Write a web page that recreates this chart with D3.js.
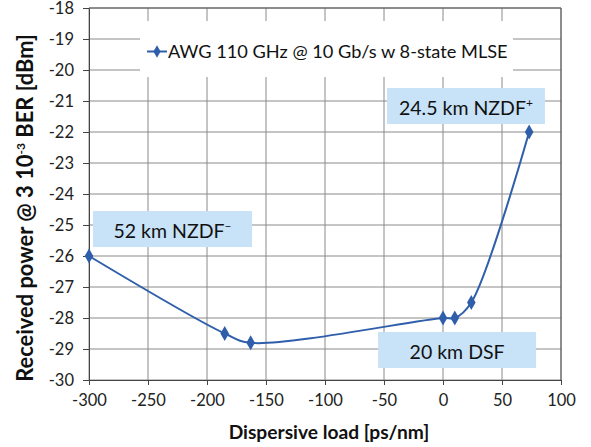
<!DOCTYPE html>
<html><head><meta charset="utf-8">
<script src="https://cdn.jsdelivr.net/npm/d3@7"></script>
<style>body{margin:0;background:#fff}svg{display:block}text{font-family:Lato,"Open Sans",sans-serif}</style>
</head><body><svg id="c" width="591" height="447"></svg>
<script>
const dispersion = [-300, -185, -163, 0, 10, 24, 73];
const power = [-26, -28.5, -28.8, -28, -28, -27.5, -22];
const xTicks = [-300, -250, -200, -150, -100, -50, 0, 50, 100];
const yTicks = [-30, -29, -28, -27, -26, -25, -24, -23, -22, -21, -20, -19, -18];
const seriesName = "AWG 110 GHz @ 10 Gb/s w 8-state MLSE";
const noteLabels = ["24.5 km NZDF", "52 km NZDF", "20 km DSF"];
const noteSups = ["+", "-", ""];
const noteX = [-47.5, -296.6, -55];
const noteY = [-20.58, -24.55, -28.45];

const W = 591, H = 447, m = {l: 89, r: 30, t: 8, b: 67};
const svg = d3.select("#c");
const x = d3.scaleLinear().domain([-300, 100]).range([m.l, W - m.r]);
const y = d3.scaleLinear().domain([-30, -18]).range([H - m.b, m.t]);
const blue = "#2f5fab";

function fit(sel, target) {
  const fs = +sel.attr("font-size");
  const len = sel.node().getComputedTextLength();
  if (len > 0) sel.attr("font-size", (fs * target / len).toFixed(2));
}

// grid
svg.append("g").selectAll("line").data(xTicks).join("line")
  .attr("x1", d => x(d)).attr("x2", d => x(d)).attr("y1", y(-18)).attr("y2", y(-30))
  .attr("stroke", "#8a8a8a").attr("stroke-width", 1);
svg.append("g").selectAll("line").data(yTicks).join("line")
  .attr("y1", d => y(d)).attr("y2", d => y(d)).attr("x1", x(-300)).attr("x2", x(100))
  .attr("stroke", "#8a8a8a").attr("stroke-width", 1);

// axes
const xa = svg.append("g").attr("transform", `translate(0,${y(-30)})`)
  .call(d3.axisBottom(x).tickValues(xTicks).tickSize(5).tickPadding(9).tickFormat(d => String(d)));
const ya = svg.append("g").attr("transform", `translate(${x(-300)},0)`)
  .call(d3.axisLeft(y).tickValues(yTicks).tickSize(6).tickPadding(9).tickFormat(d => String(d)));
[xa, ya].forEach(a => {
  a.selectAll("path").attr("stroke", "#444");
  a.selectAll("line").attr("stroke", "#444");
  a.selectAll("text").attr("font-size", 16.5).attr("fill", "#222").style("font-family", "Lato,sans-serif");
});
// top & right border
svg.append("line").attr("x1", x(-300)).attr("x2", x(100)).attr("y1", y(-18)).attr("y2", y(-18)).attr("stroke", "#555");
svg.append("line").attr("x1", x(100)).attr("x2", x(100)).attr("y1", y(-18)).attr("y2", y(-30)).attr("stroke", "#555");

// legend
const lg = svg.append("g");
lg.append("rect").attr("x", 140).attr("y", 21).attr("width", 373).attr("height", 56).attr("fill", "#fff");
lg.append("line").attr("x1", 147).attr("x2", 167).attr("y1", 51.5).attr("y2", 51.5).attr("stroke", blue).attr("stroke-width", 2);
lg.append("path").attr("d", d3.symbol(d3.symbolDiamond, 45)()).attr("transform", "translate(157,51.5)").attr("fill", blue);
const lt = lg.append("text").attr("x", 168).attr("y", 57.5).attr("font-size", 18).attr("fill", "#111").text(seriesName);
fit(lt, 340);

// notes
const ng = svg.append("g");
const noteW = [158, 159, 158], noteTW = [118, 104, 0];
noteLabels.forEach((lab, i) => {
  const g = ng.append("g");
  const bx = x(noteX[i]), by = y(noteY[i]);
  g.append("rect").attr("x", bx).attr("y", by).attr("width", noteW[i]).attr("height", 36).attr("fill", "#c8e2f8");
  const t = g.append("text").attr("x", bx + noteW[i] / 2).attr("y", by + 27)
    .attr("text-anchor", "middle").attr("font-size", 19.5).attr("fill", "#111");
  t.append("tspan").text(lab);
  if (noteSups[i]) t.append("tspan").attr("font-size", 12).attr("dy", -8).text(noteSups[i] === "-" ? "\u2013" : noteSups[i]);
});

// line
const pts = dispersion.map((d, i) => [d, power[i]]);
svg.append("path").datum(pts)
  .attr("d", d3.line().x(d => x(d[0])).y(d => y(d[1])).curve(d3.curveCatmullRom.alpha(0.5)))
  .attr("fill", "none").attr("stroke", blue).attr("stroke-width", 2);
svg.append("g").selectAll("path").data(pts).join("path")
  .attr("d", d3.symbol(d3.symbolDiamond, 64)())
  .attr("transform", d => `translate(${x(d[0])},${y(d[1])})`).attr("fill", blue);

// axis titles
const xt = svg.append("text").attr("x", 329).attr("y", 439).attr("text-anchor", "middle")
  .attr("font-size", 18).attr("font-weight", "bold").attr("fill", "#111").text("Dispersive load [ps/nm]");
fit(xt, 201);
const yt = svg.append("text").attr("transform", `translate(33,208) rotate(-90)`).attr("text-anchor", "middle")
  .attr("font-size", 20).attr("font-weight", "bold").attr("fill", "#111");
yt.append("tspan").text("Received power @ 3 10");
yt.append("tspan").attr("font-size", 12).attr("dy", -8).text("-3");
yt.append("tspan").attr("dy", 8).text(" BER [dBm]");
const yl = yt.node().getComputedTextLength();
yt.attr("font-size", (20 * 349 / yl).toFixed(2));
</script></body></html>
